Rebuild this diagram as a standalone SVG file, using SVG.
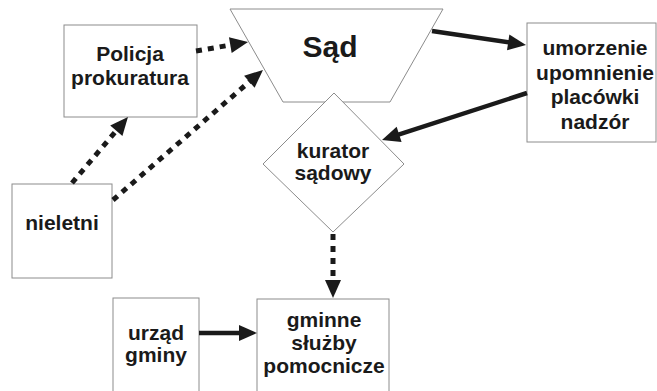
<svg xmlns="http://www.w3.org/2000/svg" width="657" height="391" viewBox="0 0 657 391">
<defs>
<style>
.shape{fill:#fff;stroke:#8c8c8c;stroke-width:1}
.t{font-family:"Liberation Sans",Arial,Helvetica,sans-serif;font-weight:bold;font-size:21px;fill:#1a1a1a;text-anchor:middle}
.big{font-size:30px}
.solid{fill:none;stroke:#1a1a1a;stroke-width:4.5}
.dot{fill:none;stroke:#1a1a1a;stroke-width:5;stroke-dasharray:6 6}
</style>
<marker id="ah" markerUnits="userSpaceOnUse" markerWidth="18" markerHeight="16" refX="8" refY="8" orient="auto" overflow="visible">
<path d="M0,0 L18,8 L0,16 z" fill="#1a1a1a"/>
</marker>
</defs>
<rect width="657" height="391" fill="#fff"/>
<g id="sad">
<polygon class="shape" points="230,9 443,9 390,102 283,102"/>
<text class="t big" x="330" y="57">Sąd</text>
</g>
<g id="policja">
<rect class="shape" x="64" y="25" width="133" height="92"/>
<text class="t" x="130" y="61">Policja</text>
<text class="t" x="130" y="85">prokuratura</text>
</g>
<g id="umorzenie">
<rect class="shape" x="527" y="23" width="129" height="119"/>
<text class="t" x="595" y="55">umorzenie</text>
<text class="t" x="595" y="79.5">upomnienie</text>
<text class="t" x="595" y="104">placówki</text>
<text class="t" x="595" y="128.5">nadzór</text>
</g>
<g id="kurator">
<polygon class="shape" points="334,93 404,164 333,232 263,164"/>
<text class="t" x="333" y="158">kurator</text>
<text class="t" x="333" y="180">sądowy</text>
</g>
<g id="nieletni">
<rect class="shape" x="12" y="184" width="100" height="94"/>
<text class="t" x="62" y="230">nieletni</text>
</g>
<g id="urzad">
<rect class="shape" x="113" y="298" width="86" height="100"/>
<text class="t" x="156" y="340">urząd</text>
<text class="t" x="156" y="362">gminy</text>
</g>
<g id="gminne">
<rect class="shape" x="257" y="299" width="132" height="100"/>
<text class="t" x="324" y="327">gminne</text>
<text class="t" x="324" y="350">służby</text>
<text class="t" x="324" y="373">pomocnicze</text>
</g>
<g id="connectors">
<line class="dot" x1="196" y1="51" x2="238.2" y2="43.7" marker-end="url(#ah)"/>
<line class="dot" x1="72" y1="183" x2="121.5" y2="124.6" marker-end="url(#ah)"/>
<line class="dot" x1="113" y1="200" x2="255.4" y2="76.5" marker-end="url(#ah)"/>
<line class="solid" x1="432" y1="31" x2="516.1" y2="43.5" marker-end="url(#ah)"/>
<line class="solid" x1="527" y1="93" x2="391.5" y2="136.9" marker-end="url(#ah)"/>
<line class="dot" x1="333" y1="234" x2="333" y2="288" marker-end="url(#ah)"/>
<line class="solid" x1="199" y1="333" x2="247" y2="333" marker-end="url(#ah)"/>
</g>
</svg>
